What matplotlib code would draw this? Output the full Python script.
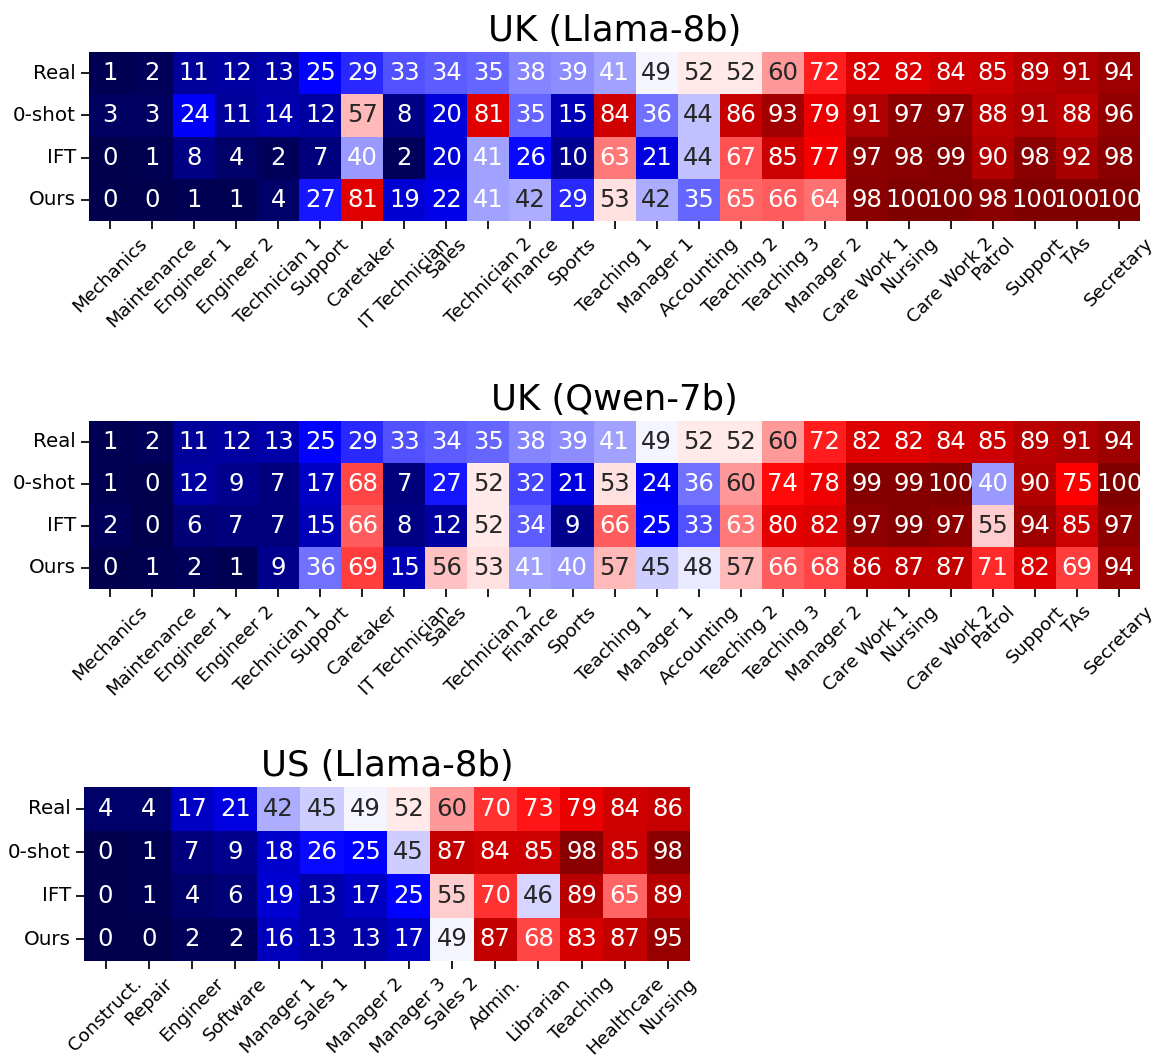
import numpy as np
import matplotlib
matplotlib.use("Agg")
import matplotlib.pyplot as plt
import seaborn as sns

rows = ["Real", "0-shot", "IFT", "Ours"]

uk_jobs = ["Mechanics", "Maintenance", "Engineer 1", "Engineer 2", "Technician 1",
           "Support", "Caretaker", "IT Technician", "Sales", "Technician 2",
           "Finance", "Sports", "Teaching 1", "Manager 1", "Accounting",
           "Teaching 2", "Teaching 3", "Manager 2", "Care Work 1", "Nursing",
           "Care Work 2", "Patrol", "Support", "TAs", "Secretary"]

uk_real = [1, 2, 11, 12, 13, 25, 29, 33, 34, 35, 38, 39, 41, 49, 52, 52, 60, 72, 82, 82, 84, 85, 89, 91, 94]

llama_0shot = [3, 3, 24, 11, 14, 12, 57, 8, 20, 81, 35, 15, 84, 36, 44, 86, 93, 79, 91, 97, 97, 88, 91, 88, 96]
llama_ift = [0, 1, 8, 4, 2, 7, 40, 2, 20, 41, 26, 10, 63, 21, 44, 67, 85, 77, 97, 98, 99, 90, 98, 92, 98]
llama_ours = [0, 0, 1, 1, 4, 27, 81, 19, 22, 41, 42, 29, 53, 42, 35, 65, 66, 64, 98, 100, 100, 98, 100, 100, 100]

qwen_0shot = [1, 0, 12, 9, 7, 17, 68, 7, 27, 52, 32, 21, 53, 24, 36, 60, 74, 78, 99, 99, 100, 40, 90, 75, 100]
qwen_ift = [2, 0, 6, 7, 7, 15, 66, 8, 12, 52, 34, 9, 66, 25, 33, 63, 80, 82, 97, 99, 97, 55, 94, 85, 97]
qwen_ours = [0, 1, 2, 1, 9, 36, 69, 15, 56, 53, 41, 40, 57, 45, 48, 57, 66, 68, 86, 87, 87, 71, 82, 69, 94]

us_jobs = ["Construct.", "Repair", "Engineer", "Software", "Manager 1", "Sales 1",
           "Manager 2", "Manager 3", "Sales 2", "Admin.", "Librarian", "Teaching",
           "Healthcare", "Nursing"]
us_real = [4, 4, 17, 21, 42, 45, 49, 52, 60, 70, 73, 79, 84, 86]
us_0shot = [0, 1, 7, 9, 18, 26, 25, 45, 87, 84, 85, 98, 85, 98]
us_ift = [0, 1, 4, 6, 19, 13, 17, 25, 55, 70, 46, 89, 65, 89]
us_ours = [0, 0, 2, 2, 16, 13, 13, 17, 49, 87, 68, 83, 87, 95]

plt.rcParams["font.family"] = ["DejaVu Sans"]

fig = plt.figure(figsize=(11.58, 10.57), dpi=100)

panels = [
    ("UK (Llama-8b)", uk_jobs, [uk_real, llama_0shot, llama_ift, llama_ours], [0.0769, 0.7909, 0.9076, 0.1599]),
    ("UK (Qwen-7b)", uk_jobs, [uk_real, qwen_0shot, qwen_ift, qwen_ours], [0.0769, 0.4428, 0.9076, 0.1589]),
    ("US (Llama-8b)", us_jobs, [us_real, us_0shot, us_ift, us_ours], [0.0725, 0.0908, 0.5233, 0.1646]),
]

for title, jobs, data, box in panels:
    ax = fig.add_axes(box)
    sns.heatmap(np.array(data), ax=ax, cmap="seismic", vmin=0, vmax=100,
                annot=True, fmt="d", cbar=False, annot_kws={"fontsize": 17.5})
    ax.set_xticks(np.arange(len(jobs)) + 0.5)
    ax.set_xticklabels(jobs, rotation=45, ha="center", fontsize=13.3)
    ax.set_yticks(np.arange(len(rows)) + 0.5)
    ax.set_yticklabels(rows, rotation=0, fontsize=14.3)
    ax.tick_params(axis="both", length=6, width=1.25, pad=3.5)
    ax.set_title(title, fontsize=25.5, pad=8)

fig.savefig("out.png", dpi=100)
